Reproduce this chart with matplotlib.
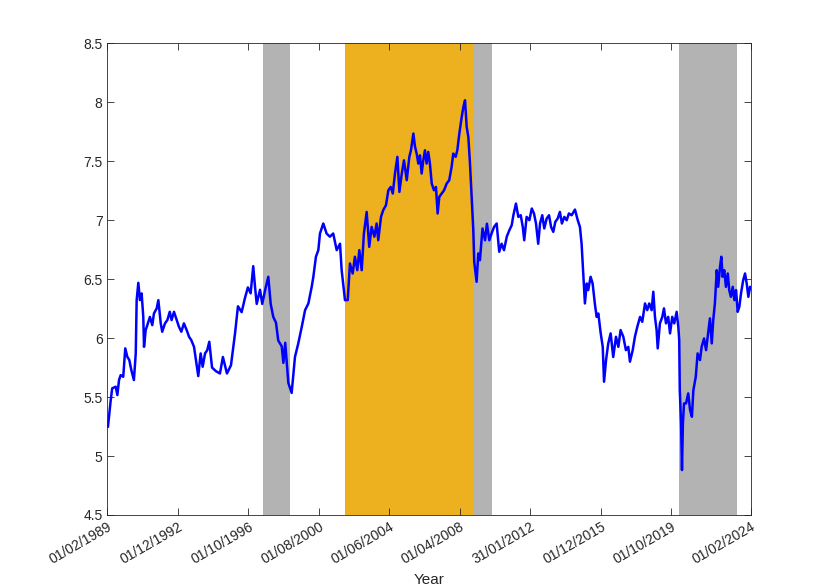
import numpy as np
import matplotlib
matplotlib.use('Agg')
import matplotlib.pyplot as plt

plt.rcParams['font.family'] = ['Liberation Sans', 'DejaVu Sans']

# series: decimal year and value
years = [1989.11, 1989.26, 1989.34, 1989.53, 1989.62, 1989.71, 1989.80, 1989.94,
         1990.05, 1990.16, 1990.27, 1990.38, 1990.52, 1990.62, 1990.67, 1990.76,
         1990.85, 1990.94, 1991.03, 1991.07, 1991.16, 1991.25, 1991.39, 1991.52,
         1991.61, 1991.76, 1991.85, 1991.98, 1992.06, 1992.21, 1992.34, 1992.47,
         1992.57, 1992.70, 1992.85, 1992.97, 1993.10, 1993.24, 1993.39, 1993.52,
         1993.64, 1993.79, 1993.88, 1994.02, 1994.15, 1994.26, 1994.39, 1994.51,
         1994.62, 1994.77, 1994.98, 1995.20, 1995.36, 1995.58, 1995.80, 1996.02,
         1996.18, 1996.38, 1996.56, 1996.72, 1996.87, 1997.01, 1997.11, 1997.20,
         1997.38, 1997.50, 1997.69, 1997.83, 1997.96, 1998.10, 1998.25, 1998.37,
         1998.56, 1998.65, 1998.75, 1998.92, 1999.10, 1999.28, 1999.46, 1999.65,
         1999.83, 2000.01, 2000.19, 2000.28, 2000.42, 2000.55, 2000.64, 2000.82,
         2001.00, 2001.18, 2001.36, 2001.55, 2001.73, 2001.82, 2002.00, 2002.15,
         2002.27, 2002.42, 2002.54, 2002.67, 2002.78, 2002.91, 2003.03, 2003.18,
         2003.32, 2003.45, 2003.60, 2003.72, 2003.81, 2003.96, 2004.08, 2004.23,
         2004.36, 2004.49, 2004.60, 2004.72, 2004.85, 2004.96, 2005.09, 2005.21,
         2005.36, 2005.50, 2005.59, 2005.72, 2005.81, 2005.90, 2005.99, 2006.08,
         2006.17, 2006.26, 2006.35, 2006.44, 2006.53, 2006.62, 2006.72, 2006.84,
         2006.95, 2007.04, 2007.13, 2007.26, 2007.39, 2007.53, 2007.67, 2007.80,
         2007.89, 2008.02, 2008.11, 2008.22, 2008.35, 2008.44, 2008.53, 2008.62,
         2008.71, 2008.80, 2008.89, 2008.98, 2009.03, 2009.16, 2009.25, 2009.34,
         2009.48, 2009.62, 2009.72, 2009.85, 2009.98, 2010.11, 2010.25, 2010.39,
         2010.52, 2010.65, 2010.80, 2010.94, 2011.07, 2011.16, 2011.30, 2011.43,
         2011.56, 2011.67, 2011.75, 2011.88, 2012.03, 2012.16, 2012.28, 2012.39,
         2012.51, 2012.61, 2012.73, 2012.84, 2012.97, 2013.10, 2013.21, 2013.33,
         2013.44, 2013.57, 2013.69, 2013.80, 2013.93, 2014.06, 2014.18, 2014.33,
         2014.51, 2014.66, 2014.78, 2014.87, 2014.96, 2015.05, 2015.15, 2015.23,
         2015.36, 2015.47, 2015.60, 2015.69, 2015.78, 2015.91, 2016.02, 2016.09,
         2016.20, 2016.32, 2016.45, 2016.59, 2016.74, 2016.87, 2016.99, 2017.14,
         2017.28, 2017.41, 2017.50, 2017.65, 2017.77, 2017.90, 2018.05, 2018.17,
         2018.32, 2018.44, 2018.55, 2018.68, 2018.77, 2018.86, 2018.95, 2019.01,
         2019.13, 2019.26, 2019.35, 2019.46, 2019.58, 2019.68, 2019.80, 2019.91,
         2020.04, 2020.13, 2020.18, 2020.21, 2020.28, 2020.33, 2020.38, 2020.44,
         2020.55, 2020.67, 2020.77, 2020.87, 2020.95, 2021.08, 2021.18, 2021.31,
         2021.40, 2021.53, 2021.64, 2021.73, 2021.85, 2021.95, 2022.03, 2022.12,
         2022.22, 2022.30, 2022.40, 2022.47, 2022.54, 2022.63, 2022.72, 2022.82,
         2022.90, 2022.99, 2023.09, 2023.18, 2023.27, 2023.36, 2023.45, 2023.54,
         2023.66, 2023.76, 2023.85, 2023.94, 2024.03, 2024.08]

values = [5.25, 5.475, 5.574, 5.588, 5.517, 5.644, 5.686, 5.672,
          5.913, 5.842, 5.814, 5.729, 5.644, 5.87, 6.322, 6.469,
          6.322, 6.379, 6.18, 5.926, 6.068, 6.11, 6.18, 6.11,
          6.209, 6.252, 6.322, 6.125, 6.054, 6.125, 6.153, 6.223,
          6.153, 6.223, 6.153, 6.096, 6.054, 6.125, 6.068, 6.011,
          5.983, 5.926, 5.828, 5.678, 5.87, 5.757, 5.87, 5.898,
          5.969, 5.75, 5.72, 5.70, 5.84, 5.70, 5.77, 6.04,
          6.27, 6.22, 6.34, 6.43, 6.38, 6.61, 6.43, 6.29,
          6.41, 6.29, 6.43, 6.52, 6.29, 6.18, 6.13, 5.98,
          5.93, 5.79, 5.96, 5.62, 5.535, 5.84, 5.955, 6.096,
          6.237, 6.294, 6.435, 6.52, 6.69, 6.746, 6.887, 6.972,
          6.887, 6.86, 6.887, 6.746, 6.80, 6.576, 6.322, 6.322,
          6.633, 6.548, 6.69, 6.576, 6.746, 6.576, 6.887, 7.07,
          6.774, 6.943, 6.86, 6.972, 6.83, 7.028, 7.085, 7.127,
          7.254, 7.282, 7.226, 7.396, 7.537, 7.24, 7.396, 7.508,
          7.339, 7.537, 7.593, 7.735, 7.622, 7.565, 7.48, 7.55,
          7.396, 7.508, 7.593, 7.48, 7.579, 7.48, 7.31, 7.254,
          7.282, 7.057, 7.198, 7.226, 7.254, 7.31, 7.339, 7.452,
          7.565, 7.537, 7.593, 7.735, 7.876, 7.96, 8.017, 7.791,
          7.706, 7.48, 7.198, 6.915, 6.647, 6.477, 6.718, 6.661,
          6.93, 6.83, 6.97, 6.83, 6.89, 6.943, 6.972, 6.732,
          6.80, 6.746, 6.86, 6.915, 6.958, 7.042, 7.141, 7.028,
          7.042, 6.943, 6.83, 7.028, 7.0, 7.099, 7.057, 6.972,
          6.80, 6.972, 7.042, 6.93, 7.014, 7.042, 6.943, 6.901,
          6.986, 7.014, 7.07, 6.972, 7.028, 7.0, 7.057, 7.042,
          7.09, 7.0, 6.943, 6.80, 6.548, 6.294, 6.463, 6.407,
          6.52, 6.463, 6.28, 6.18, 6.209, 6.04, 5.926, 5.63,
          5.814, 5.955, 6.04, 5.84, 6.011, 5.926, 6.068, 6.011,
          5.898, 5.926, 5.80, 5.898, 6.011, 6.096, 6.18, 6.138,
          6.294, 6.237, 6.294, 6.237, 6.393, 6.18, 6.068, 5.913,
          6.125, 6.18, 6.252, 6.125, 6.18, 6.04, 6.18, 6.125,
          6.223, 6.096, 5.983, 5.559, 5.277, 4.881, 5.277, 5.446,
          5.446, 5.531, 5.39, 5.333, 5.559, 5.672, 5.87, 5.814,
          5.926, 5.997, 5.898, 6.011, 6.167, 5.955, 6.153, 6.294,
          6.576, 6.435, 6.605, 6.69, 6.52, 6.576, 6.435, 6.548,
          6.407, 6.35, 6.435, 6.322, 6.407, 6.223, 6.266, 6.379,
          6.492, 6.548, 6.463, 6.35, 6.435, 6.42]

# shaded periods (start year, end year)
grey_periods = [(1997.52, 1999.01), (2009.01, 2010.0), (2020.18, 2023.34)]
orange_period = (2002.0, 2009.01)

tick_pos = [1989.083, 1992.917, 1996.75, 2000.583, 2004.417, 2008.25,
            2012.083, 2015.917, 2019.75, 2024.083]
tick_lab = ['01/02/1989', '01/12/1992', '01/10/1996', '01/08/2000', '01/06/2004',
            '01/04/2008', '31/01/2012', '01/12/2015', '01/10/2019', '01/02/2024']

fig = plt.figure(figsize=(8.3, 5.87), dpi=100)
ax = fig.add_axes([0.1295, 0.1227, 0.7753, 0.8035])

for a, b in grey_periods:
    ax.axvspan(a, b, color=(0.7, 0.7, 0.7), lw=0, zorder=1)
ax.axvspan(orange_period[0], orange_period[1], color=(0.929, 0.694, 0.125), lw=0, zorder=1)

ax.plot(years, values, color='b', lw=1.8, zorder=3)

ax.set_xlim(tick_pos[0], tick_pos[-1])
ax.set_ylim(4.5, 8.5)
ax.set_xticks(tick_pos)
ax.set_xticklabels(tick_lab, rotation=30, ha='right', rotation_mode='anchor')
ax.set_yticks(np.arange(4.5, 8.51, 0.5))
ax.set_yticklabels(['4.5', '5', '5.5', '6', '6.5', '7', '7.5', '8', '8.5'])
ax.tick_params(direction='in', length=5, top=True, right=True, labelsize=10,
               colors='#262626', width=0.6)
for s in ax.spines.values():
    s.set_color('#262626')
    s.set_linewidth(0.6)
    s.set_zorder(4)
ax.set_xlabel('Year', fontsize=11, color='#262626', labelpad=4)

plt.savefig('out.png', dpi=100)
